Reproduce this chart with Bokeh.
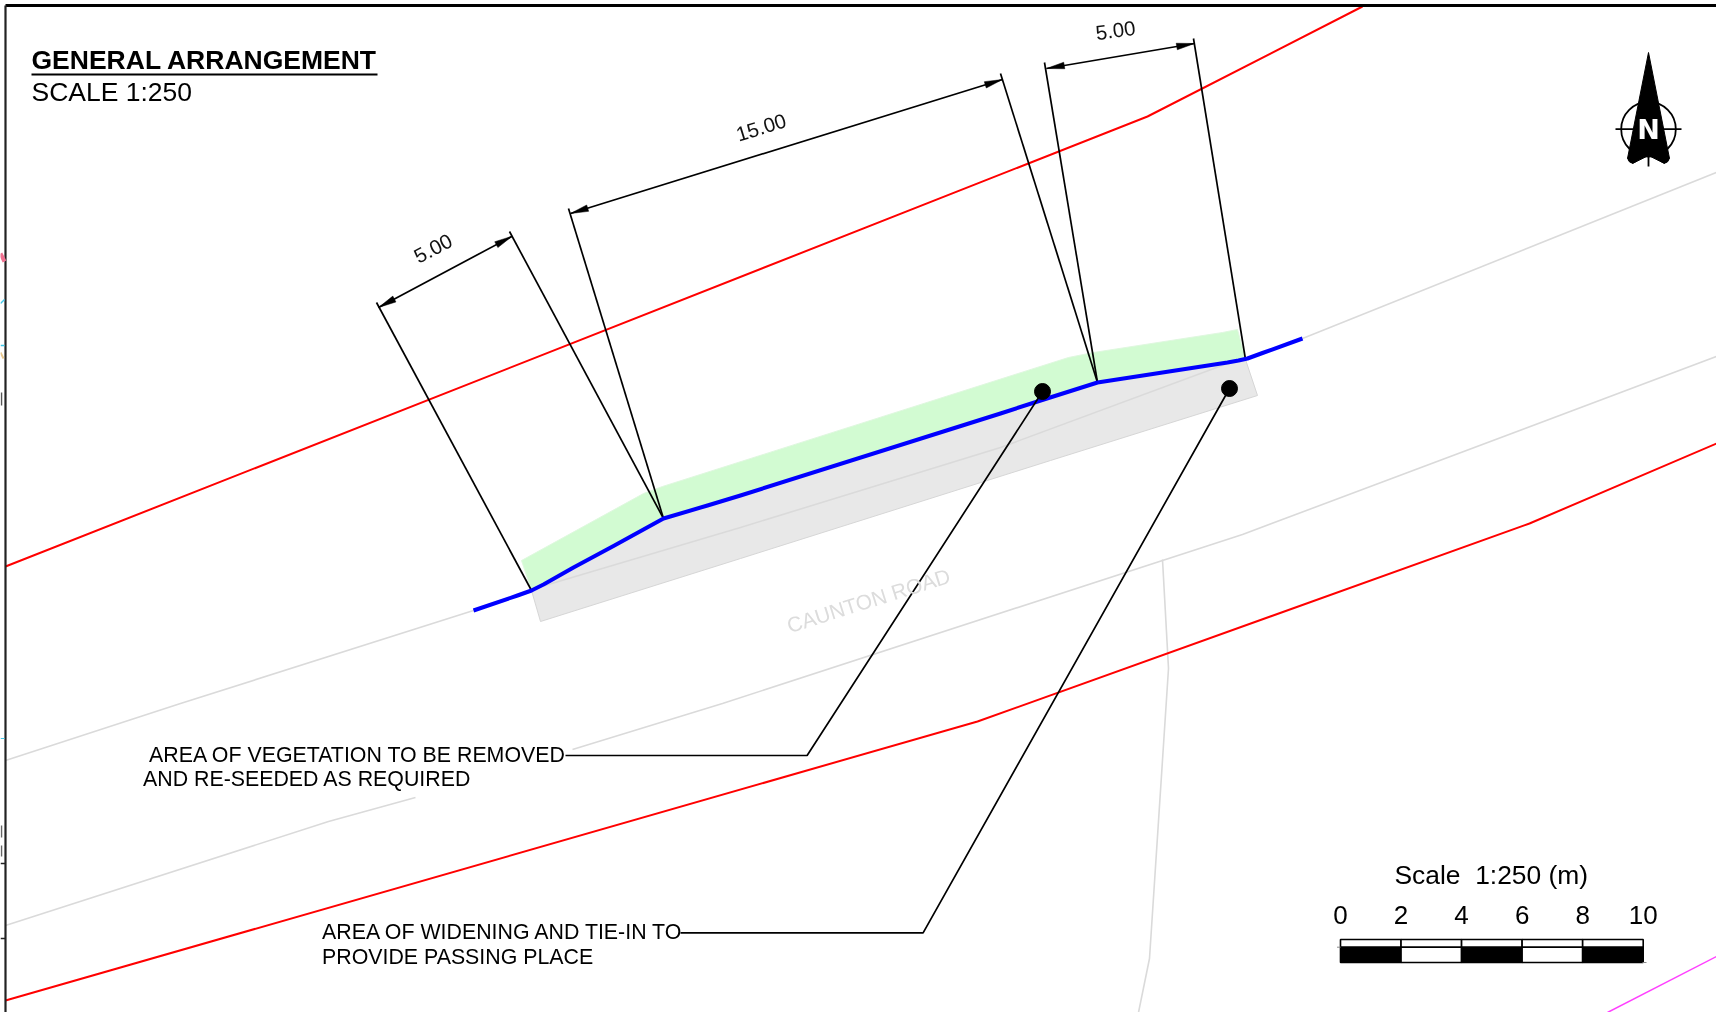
from bokeh.plotting import figure
from bokeh.models import Range1d
from bokeh.core.properties import value
from bokeh.embed import file_html
from bokeh.resources import INLINE
import math

# Drawing data, in drawing units (x right, y down)
red_north_x = [5, 1147, 1362]
red_north_y = [566, 116, 6]
red_south_x = [5, 977, 1529, 1716]
red_south_y = [1000, 721, 523, 443]

road_edge_a_left_x = [5, 180, 473]
road_edge_a_left_y = [760, 703, 610]
road_edge_a_mid_x = [531, 740, 1000, 1227]
road_edge_a_mid_y = [589, 527, 447, 363]
road_edge_a_right_x = [1302, 1716]
road_edge_a_right_y = [338, 172]
road_edge_b_left_x = [5, 328, 415]
road_edge_b_left_y = [925, 821, 797]
road_edge_b_right_x = [572, 722, 1242, 1716]
road_edge_b_right_y = [749, 703, 534, 356]
side_road_x = [1162, 1168, 1149, 1138]
side_road_y = [559, 668, 958, 1012]
magenta_x = [1607, 1716]
magenta_y = [1012, 956]

vegetation_x = [521, 643, 662, 1068, 1093, 1222, 1237, 1245, 1227, 1097, 1037, 1000, 740, 707, 663, 613, 573, 543, 531]
vegetation_y = [560, 493, 486, 357, 352, 332, 329, 359, 362, 382, 401, 413, 495, 505, 518, 545.5, 567, 584, 590]
widening_x = [531, 540, 740, 1050, 1257, 1245, 1227, 1097, 1037, 1000, 740, 707, 663, 613, 573, 543]
widening_y = [590, 621, 558, 460, 395, 359, 362, 382, 401, 413, 495, 505, 518, 545.5, 567, 584]

new_edge_x = [473, 517, 531, 543, 573, 613, 663, 707, 740, 1000, 1037, 1097, 1227, 1238, 1247, 1262, 1302]
new_edge_y = [610, 595, 590, 584, 567, 545.5, 518, 505, 495, 413, 401, 382, 362, 360, 358, 352.5, 338]

ext_xs = [[376, 531], [509, 663], [568, 663], [1000, 1097], [1044, 1097], [1193, 1245]]
ext_ys = [[302, 590], [231, 518], [208, 518], [73, 382], [62, 382], [38, 359]]
dim_x0 = [378, 570, 1046]
dim_y0 = [307, 213, 68]
dim_x1 = [511.7, 1002, 1194]
dim_y1 = [235.7, 79, 43]
dim_text = ["5.00", "15.00", "5.00"]
dim_text_x = [432.7, 760.6, 1115]
dim_text_y = [248, 127, 30]
dim_text_angle = [28, 17.2, 8]

leader_a_x = [1042, 806.6, 565]
leader_a_y = [391, 755, 755]
leader_b_x = [1229, 922.6, 680]
leader_b_y = [388, 932.4, 932.4]

scale_start = [0, 2, 4, 6, 8]
scale_fill = ["black", "white", "black", "white", "black"]
scale_ticks = ["0", "2", "4", "6", "8", "10"]
scale_tick_m = [0, 2, 4, 6, 8, 10]
PX_PER_M = 30.27
SCALE_X0 = 1340

arrow_x = [1648, 1669, 1664, 1648, 1632, 1627]
arrow_y = [52, 158, 163, 155, 163, 158]

p = figure(width=1716, height=1012, output_backend="svg", toolbar_location=None,
           x_range=Range1d(0, 1716), y_range=Range1d(1012, 0),
           min_border=0, outline_line_color=None, background_fill_color="white",
           border_fill_color="white", x_axis_type=None, y_axis_type=None)
p.grid.visible = False
p.styles = {"position": "fixed", "left": "0px", "top": "0px"}

FONT = value("Liberation Sans")

def label(x, y, s, size, color="black", style="normal", align="left", angle=0, font=FONT):
    p.text([x], [y], text=[s], text_font=font, text_font_size=f"{size}px",
           text_color=color, text_font_style=style, text_align=align,
           text_baseline="middle", angle=angle, angle_units="deg")

# Fills
p.patch(vegetation_x, vegetation_y, fill_color="#d2fbd2", line_color="#dff8df", line_width=1)
p.patch(widening_x, widening_y, fill_color="#e8e8e8", line_color="#d6d6d6", line_width=1)

# Faint road edges
GREY = "#dadada"
for xs, ys in [(road_edge_a_left_x, road_edge_a_left_y), (road_edge_a_mid_x, road_edge_a_mid_y),
               (road_edge_a_right_x, road_edge_a_right_y), (road_edge_b_left_x, road_edge_b_left_y),
               (road_edge_b_right_x, road_edge_b_right_y), (side_road_x, side_road_y)]:
    p.line(xs, ys, line_color=GREY, line_width=1.6)

# Boundaries
p.line(red_north_x, red_north_y, line_color="#ff0000", line_width=2)
p.line(red_south_x, red_south_y, line_color="#ff0000", line_width=2)
p.line(magenta_x, magenta_y, line_color="#ff40ff", line_width=1.5)

# Dimensions
p.multi_line(ext_xs, ext_ys, line_color="black", line_width=1.7)
p.segment(dim_x0, dim_y0, dim_x1, dim_y1, line_color="black", line_width=1.7)
heads_x, heads_y = [], []
for x0, y0, x1, y1 in zip(dim_x0, dim_y0, dim_x1, dim_y1):
    d = math.hypot(x1 - x0, y1 - y0)
    ux, uy = (x1 - x0) / d, (y1 - y0) / d
    nx, ny = -uy, ux
    for tx, ty, sx, sy in [(x0, y0, ux, uy), (x1, y1, -ux, -uy)]:
        heads_x.append([tx, tx + 18 * sx + 3.3 * nx, tx + 18 * sx - 3.3 * nx])
        heads_y.append([ty, ty + 18 * sy + 3.3 * ny, ty + 18 * sy - 3.3 * ny])
p.patches(heads_x, heads_y, fill_color="black", line_color="black", line_width=0.5)
for s, x, y, a in zip(dim_text, dim_text_x, dim_text_y, dim_text_angle):
    label(x, y, s, 20.5, align="center", angle=a, color="#111111")

# New carriageway edge
p.line(new_edge_x, new_edge_y, line_color="#0000ff", line_width=4, line_join="round")

# Leaders
p.line(leader_a_x, leader_a_y, line_color="black", line_width=1.7)
p.line(leader_b_x, leader_b_y, line_color="black", line_width=1.7)
p.scatter([leader_a_x[0], leader_b_x[0]], [leader_a_y[0], leader_b_y[0]], size=16, marker="circle",
          fill_color="black", line_color="black")

label(868, 600, "CAUNTON ROAD", 21, color="#dcdcdc", align="center", angle=17.5)

label(148.5, 754, "AREA OF VEGETATION TO BE REMOVED", 21.35)
label(142.5, 778, "AND RE-SEEDED AS REQUIRED", 21.35)
label(321.5, 931, "AREA OF WIDENING AND TIE-IN TO", 21.35)
label(321.5, 956, "PROVIDE PASSING PLACE", 21.35)

label(31, 59, "GENERAL ARRANGEMENT", 26.5, style="bold")
p.line([31, 377], [74, 74], line_color="black", line_width=1.8)
label(31, 91, "SCALE 1:250", 26.5)

# North point
p.scatter([1648], [128.7], size=54.6, marker="circle", fill_color=None, line_color="black", line_width=1.8)
p.line([1615, 1681], [128.7, 128.7], line_color="black", line_width=1.8)
p.patch(arrow_x, arrow_y, fill_color="black", line_color="black", line_width=1)
p.scatter([1632, 1664], [158, 158], size=9, marker="circle", fill_color="black", line_color="black")
p.line([1648, 1648], [150, 166], line_color="black", line_width=1.8)
label(1648, 128.5, "N", 27, color="white", style="bold", align="center", font=value("DejaVu Sans"))

# Scale bar
label(1394, 874, "Scale\u00a0 1:250 (m)", 26.4)
for t, m in zip(scale_ticks, scale_tick_m):
    label(SCALE_X0 + m * PX_PER_M, 914, t, 26, align="center")
left = [SCALE_X0 + m * PX_PER_M for m in scale_start]
right = [SCALE_X0 + (m + 2) * PX_PER_M for m in scale_start]
p.quad(left=left, right=right, top=[939] * 5, bottom=[946.7] * 5, fill_color="white", line_color="black", line_width=1.6)
p.quad(left=left, right=right, top=[946.7] * 5, bottom=[962] * 5, fill_color=scale_fill, line_color="black", line_width=1.6)
p.line([1336.5, 1340], [946.7, 946.7], line_color="#888888", line_width=1)
p.line([1642, 1646], [962, 962], line_color="#888888", line_width=1)

# Sheet frame
p.line([5, 1716], [5, 5], line_color="black", line_width=3.2)
p.line([5, 5], [5, 1012], line_color="#222222", line_width=2.2)
p.line([0, 5], [863, 863], line_color="#222222", line_width=1.6)
p.line([0, 5], [938, 938], line_color="#222222", line_width=1.6)

# Clipped bits of the neighbouring drawing, left of the frame
p.line([0, 4], [253, 261], line_color="#f07090", line_width=4)
p.line([0, 4], [303, 299], line_color="#40c8e8", line_width=1.5)
p.line([0, 4], [345, 345], line_color="#40c8e8", line_width=1.5)
p.line([0, 3], [352, 358], line_color="#e8c890", line_width=2)
p.line([1, 1], [392, 405], line_color="#555555", line_width=1.5)
p.line([0, 4], [738, 738], line_color="#40c8e8", line_width=1.2)
p.line([1, 1], [825, 837], line_color="#666666", line_width=1.5)
p.line([1, 1], [845, 856], line_color="#666666", line_width=1.5)

open("out.html", "w").write(file_html(p, INLINE))
